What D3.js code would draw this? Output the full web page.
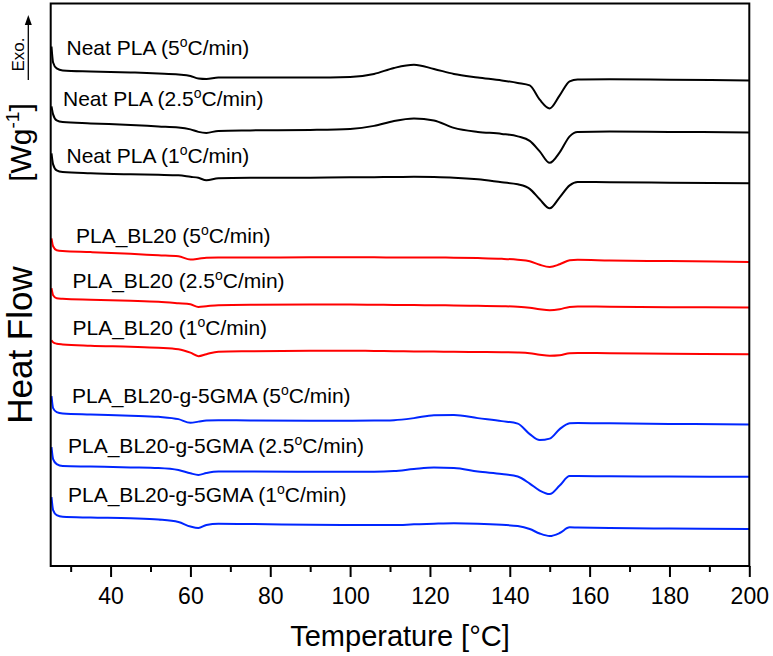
<!DOCTYPE html>
<html><head><meta charset="utf-8">
<script src="https://cdn.jsdelivr.net/npm/d3@7"></script>
<style>
body{margin:0;background:#fff}
svg{display:block}
text{font-family:"Liberation Sans",Arial,Helvetica,sans-serif;fill:#000}
</style>
</head><body>
<svg id="chart" width="773" height="656"></svg>
<script>
// ---------- data (heat flow in arbitrary units, curves offset for display) ----------
const temps = [25.2, 25.6, 26.5, 28, 35, 45, 52, 57, 60, 62, 64, 67, 75, 90, 100, 106, 111, 116, 121, 126, 132, 138, 142, 145, 147.5, 150, 152.5, 155, 157, 165, 180, 200];

const neat5  = [554, 538, 532, 530, 529, 528, 527, 526, 524.5, 522, 521.5, 523, 523, 523, 523.5, 526.5, 532.5, 535.7, 531.5, 526.5, 523, 520, 517.5, 515, 500.7, 492, 505, 519, 521, 521.2, 520.7, 520];
const neat25 = [494, 486, 480, 478.3, 477, 475.5, 474, 473, 471, 468.5, 467.5, 469.5, 470, 470.5, 471.5, 474.5, 479.5, 482, 480, 472.5, 468.5, 466.5, 464, 459.5, 449, 437.5, 448, 464, 468.3, 469, 468.5, 468];
const neat1  = [447, 436, 430, 428.3, 427, 426, 425.5, 425, 423.5, 422.5, 420, 422, 422.5, 422.7, 423, 423.2, 423.4, 423.5, 423.3, 422.7, 421, 418, 416, 411.5, 401, 392, 403, 415, 418.3, 418.2, 417.7, 417];

const bl5  = [362, 354, 350, 349.2, 348.2, 346.5, 345, 344, 340.8, 341.5, 342.6, 342.7, 342.7, 343, 343, 343, 342.8, 342.7, 342.7, 342.6, 342.2, 341.5, 340.5, 339, 335.5, 333.3, 336, 340, 340.5, 339.8, 339.2, 338.3];
const bl25 = [312, 305, 302, 301.5, 300.5, 299.5, 298.5, 297, 296, 293.3, 294, 295, 295.5, 295.7, 295.7, 295.5, 295.3, 295.2, 295, 294.8, 294.4, 294, 293.5, 292.5, 291, 290, 291, 293.3, 293.7, 293.5, 293.1, 292.7];
const bl1  = [260, 258, 256.5, 255.8, 254.5, 253.5, 252.5, 251, 247.5, 244, 246, 248.5, 249, 249.5, 249.5, 249.2, 249, 248.8, 248.6, 248.4, 248.2, 248, 247.7, 247, 245.5, 244.5, 245, 247, 247.2, 247, 246.5, 246];

const gma5  = [204, 192, 188, 186.7, 185.7, 184.5, 183.3, 181, 177.3, 178.5, 179.7, 180, 179.7, 179.5, 179.5, 179.6, 180, 182, 185, 185.2, 182, 179, 176.5, 166, 160, 161.5, 171, 176.8, 177.2, 176.8, 176.2, 175.7];
const gma25 = [153, 141, 136, 134, 133.5, 132.7, 132, 130, 126.8, 125.2, 127, 128.5, 128.5, 128.4, 128.3, 128.3, 129, 131, 132.5, 132.2, 128.5, 126, 123.5, 116.5, 109.5, 106, 114.5, 124, 124, 123.8, 123.6, 123.3];
const gma1  = [103, 90, 85, 83.3, 82.5, 81.7, 80.5, 78, 73.5, 72, 75, 76.2, 76, 75.3, 75, 75, 75, 75.7, 76.3, 76.7, 76.3, 75.2, 74, 71, 66.5, 64, 67, 72.7, 72.5, 72, 71.5, 71];

const sampleNames = ["Neat PLA", "Neat PLA", "Neat PLA", "PLA_BL20", "PLA_BL20", "PLA_BL20", "PLA_BL20-g-5GMA", "PLA_BL20-g-5GMA", "PLA_BL20-g-5GMA"];
const rates = ["5", "2.5", "1", "5", "2.5", "1", "5", "2.5", "1"];
const seriesValues = [neat5, neat25, neat1, bl5, bl25, bl1, gma5, gma25, gma1];

const majorTicks = [40, 60, 80, 100, 120, 140, 160, 180, 200];
const minorTicks = [30, 50, 70, 90, 110, 130, 150, 170, 190];

// ---------- layout / styles ----------
const seriesColors = ["#000000", "#000000", "#000000", "#ff0000", "#ff0000", "#ff0000", "#0026ff", "#0026ff", "#0026ff"];
const labelLayout = [[66.5, 55], [63, 106], [66.5, 163.3], [76, 243.3], [72.5, 288.3], [72.5, 335], [72, 403], [68, 452.7], [68, 501.5]];

const svg = d3.select("#chart");
const plot = {left: 50.7, right: 749.3, top: 3.5, bottom: 566};

const x = d3.scaleLinear().domain([25, 200]).range([plot.left, plot.right]);
const y = d3.scaleLinear().domain([34, 597]).range([plot.bottom, plot.top]);

const line = d3.line()
  .x(d => x(d[0]))
  .y(d => y(d[1]))
  .curve(d3.curveMonotoneX);

// curves
svg.append("g").selectAll("path")
  .data(seriesValues)
  .join("path")
  .attr("d", vals => line(temps.map((t, i) => [t, vals[i]])))
  .attr("fill", "none")
  .attr("stroke", (d, i) => seriesColors[i])
  .attr("stroke-width", 2)
  .attr("stroke-linejoin", "round");

// labels
const labels = svg.append("g").selectAll("text")
  .data(sampleNames)
  .join("text")
  .attr("x", (d, i) => labelLayout[i][0])
  .attr("y", (d, i) => labelLayout[i][1])
  .attr("font-size", 21);
labels.append("tspan").text((d, i) => d + " (" + rates[i]);
labels.append("tspan").attr("font-size", 14).attr("dy", -8).text("o");
labels.append("tspan").attr("dy", 8).text("C/min)");

// frame
svg.append("rect")
  .attr("x", plot.left).attr("y", plot.top)
  .attr("width", plot.right - plot.left).attr("height", plot.bottom - plot.top)
  .attr("fill", "none").attr("stroke", "#000").attr("stroke-width", 2);

// x axis
const gMajor = svg.append("g")
  .attr("transform", `translate(0,${plot.bottom})`)
  .call(d3.axisBottom(x).tickValues(majorTicks).tickSize(11).tickPadding(11).tickFormat(d3.format("d")));
gMajor.select(".domain").remove();
gMajor.selectAll("line").attr("stroke", "#000").attr("stroke-width", 2);
gMajor.selectAll("text").attr("font-size", 23).attr("font-family", "Liberation Sans, Arial, sans-serif").attr("fill", "#000");

const gMinor = svg.append("g")
  .attr("transform", `translate(0,${plot.bottom})`)
  .call(d3.axisBottom(x).tickValues(minorTicks).tickSize(6).tickFormat(""));
gMinor.select(".domain").remove();
gMinor.selectAll("line").attr("stroke", "#000").attr("stroke-width", 2);

// axis titles
svg.append("text")
  .attr("x", (plot.left + plot.right) / 2).attr("y", 646)
  .attr("text-anchor", "middle").attr("font-size", 29)
  .text("Temperature [°C]");

svg.append("text")
  .attr("transform", "translate(32,345) rotate(-90)")
  .attr("text-anchor", "middle").attr("font-size", 35)
  .text("Heat Flow");

const wg = svg.append("text")
  .attr("transform", "translate(31,142.5) rotate(-90)")
  .attr("text-anchor", "middle").attr("font-size", 30);
wg.append("tspan").text("[Wg");
wg.append("tspan").attr("font-size", 19).attr("dy", -12).text("-1");
wg.append("tspan").attr("dy", 12).text("]");

svg.append("text")
  .attr("transform", "translate(24,54.5) rotate(-90)")
  .attr("text-anchor", "middle").attr("font-size", 17)
  .text("Exo.");

svg.append("line")
  .attr("x1", 28.3).attr("x2", 28.3).attr("y1", 80).attr("y2", 24)
  .attr("stroke", "#000").attr("stroke-width", 1.3);
svg.append("path")
  .attr("d", "M24.8,25 L28.3,15 L31.8,25 Z")
  .attr("fill", "#000");
</script>
</body></html>
